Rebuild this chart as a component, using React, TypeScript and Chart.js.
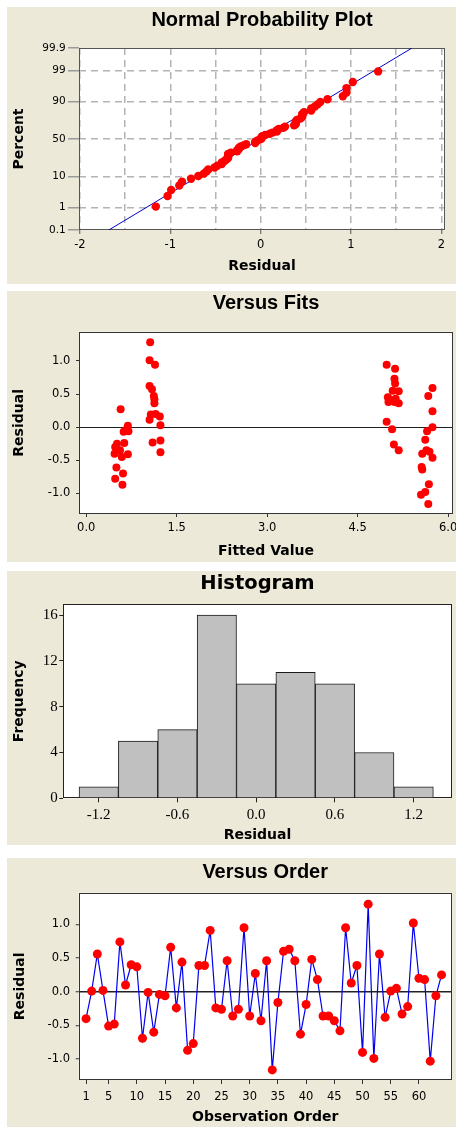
import React, { useEffect, useRef } from "react";
import { Chart, registerables } from "chart.js";

Chart.register(...registerables);
Chart.defaults.font.family = "DejaVu Sans";
Chart.defaults.color = "#000";

// ---------------- DATA ----------------
// Residuals in observation order (Versus Order panel)
const orderResiduals = [
  -0.40, 0.01, 0.56, 0.02, -0.51, -0.48, 0.74, 0.10, 0.40, 0.37,
  -0.69, -0.01, -0.60, -0.04, -0.06, 0.66, -0.24, 0.44, -0.87, -0.77,
  0.39, 0.39, 0.91, -0.24, -0.26, 0.46, -0.36, -0.26, 0.95, -0.36,
  0.27, -0.43, 0.46, -1.16, -0.16, 0.60, 0.63, 0.46, -0.63, -0.19,
  0.48, 0.18, -0.36, -0.36, -0.43, -0.58, 0.95, 0.13, 0.39, -0.90,
  1.30, -0.99, 0.56, -0.38, 0.01, 0.05, -0.33, -0.22, 1.02, 0.20,
  0.18, -1.03, -0.06, 0.25,
];
const orderTickValues = [1, 5, 10, 15, 20, 25, 30, 35, 40, 45, 50, 55, 60];

// Normal probability plot: ordered residuals and their plotted percents
const npResidual = [
  -1.16, -1.03, -0.99, -0.90, -0.87, -0.77, -0.69, -0.63, -0.60, -0.58,
  -0.51, -0.48, -0.43, -0.43, -0.40, -0.38, -0.36, -0.36, -0.36, -0.36,
  -0.33, -0.26, -0.26, -0.24, -0.24, -0.22, -0.19, -0.16, -0.06, -0.06,
  -0.04, -0.01, 0.01, 0.01, 0.02, 0.05, 0.10, 0.13, 0.18, 0.18,
  0.20, 0.25, 0.27, 0.37, 0.39, 0.39, 0.39, 0.40, 0.44, 0.46,
  0.46, 0.46, 0.48, 0.56, 0.56, 0.60, 0.63, 0.66, 0.74, 0.91,
  0.95, 0.95, 1.02, 1.30,
];
const npPercent = [
  1.087, 2.640, 4.193, 5.745, 7.298, 8.851, 10.404, 11.957, 13.509, 15.062,
  16.615, 18.168, 19.720, 21.273, 22.826, 24.379, 25.932, 27.484, 29.037, 30.590,
  32.143, 33.696, 35.248, 36.801, 38.354, 39.907, 41.460, 43.012, 44.565, 46.118,
  47.671, 49.224, 50.776, 52.329, 53.882, 55.435, 56.988, 58.540, 60.093, 61.646,
  63.199, 64.752, 66.304, 67.857, 69.410, 70.963, 72.516, 74.068, 75.621, 77.174,
  78.727, 80.280, 81.832, 83.385, 84.938, 86.491, 88.043, 89.596, 91.149, 92.702,
  94.255, 95.807, 97.360, 98.913,
];
const fitLineResidual = [-1.68, 1.675];
const fitLinePercent = [0.1, 99.9];
const npPercentTicks = [0.1, 1, 10, 50, 90, 99, 99.9];
const npPercentLabels = ["0.1", "1", "10", "50", "90", "99", "99.9"];
const npXGrid = [-2, -1.5, -1, -0.5, 0, 0.5, 1, 1.5, 2];
const npXLabels = ["-2", "", "-1", "", "0", "", "1", "", "2"];

// Versus Fits
const fitsFitted = [
  0.57, 0.69, 0.66, 0.62, 0.70, 0.51, 0.63, 0.48, 0.56, 0.69, 0.47, 0.59, 0.50, 0.48, 0.61, 0.60,
  1.06, 1.05, 1.14, 1.05, 1.09, 1.12, 1.13, 1.13, 1.07, 1.15, 1.22, 1.05, 1.23, 1.10, 1.23, 1.23,
  4.98, 5.12, 5.11, 5.12, 5.18, 5.00, 5.05, 5.18, 5.01, 5.11, 5.08, 4.98, 5.07, 5.10, 5.18, 5.13,
  5.74, 5.67, 5.74, 5.74, 5.65, 5.62, 5.64, 5.57, 5.74, 5.56, 5.57, 5.68, 5.62, 5.55, 5.67, 5.69,
];
const fitsResidual = [
  0.27, 0.02, -0.04, -0.07, -0.06, -0.25, -0.24, -0.30, -0.35, -0.41, -0.40, -0.45, -0.61, -0.78, -0.70, -0.87,
  1.28, 1.01, 0.94, 0.62, 0.57, 0.47, 0.42, 0.36, 0.19, 0.20, 0.16, 0.11, 0.03, -0.23, -0.20, -0.38,
  0.94, 0.88, 0.73, 0.66, 0.54, 0.45, 0.41, 0.36, 0.38, 0.38, 0.55, 0.08, -0.03, -0.26, -0.35, 0.43,
  0.59, 0.47, 0.24, 0.00, -0.06, -0.19, -0.35, -0.40, -0.46, -0.60, -0.64, -0.86, -0.98, -1.02, -1.16, -0.37,
];
const fitsXTicks = [0, 1.5, 3, 4.5, 6];
const residualTicks = [-1, -0.5, 0, 0.5, 1];

// Histogram
const histCenters = [-1.2, -0.9, -0.6, -0.3, 0.0, 0.3, 0.6, 0.9, 1.2];
const histCounts = [1, 5, 6, 16, 10, 11, 10, 4, 1];
const histXTicks = [-1.2, -0.6, 0, 0.6, 1.2];
const histYTicks = [0, 4, 8, 12, 16];

// ---------------- STYLE ----------------
const BEIGE = "#ece9d8";
const RED = "#ff0000";
const BLUE = "#0000ee";
const TITLE_FONT = "Liberation Sans";
const AXIS_TITLE = { family: "DejaVu Sans", size: 14, weight: "bold" as const };
const TICK_FONT = { family: "DejaVu Sans", size: 11.5 };

// probability-scale transform (inverse standard normal CDF)
function probit(p: number): number {
  const a = [-3.969683028665376e1, 2.209460984245205e2, -2.759285104469687e2, 1.38357751867269e2, -3.066479806614716e1, 2.506628277459239];
  const b = [-5.447609879822406e1, 1.615858368580409e2, -1.556989798598866e2, 6.680131188771972e1, -1.328068155288572e1];
  const c = [-7.784894002430293e-3, -3.223964580411365e-1, -2.400758277161838, -2.549732539343734, 4.374664141464968, 2.938163982698783];
  const d = [7.784695709041462e-3, 3.224671290700398e-1, 2.445134137142996, 3.754408661907416];
  const pl = 0.02425;
  if (p < pl) {
    const q = Math.sqrt(-2 * Math.log(p));
    return (((((c[0] * q + c[1]) * q + c[2]) * q + c[3]) * q + c[4]) * q + c[5]) / ((((d[0] * q + d[1]) * q + d[2]) * q + d[3]) * q + 1);
  }
  if (p <= 1 - pl) {
    const q = p - 0.5;
    const r = q * q;
    return ((((((a[0] * r + a[1]) * r + a[2]) * r + a[3]) * r + a[4]) * r + a[5]) * q) / (((((b[0] * r + b[1]) * r + b[2]) * r + b[3]) * r + b[4]) * r + 1);
  }
  const q = Math.sqrt(-2 * Math.log(1 - p));
  return -(((((c[0] * q + c[1]) * q + c[2]) * q + c[3]) * q + c[4]) * q + c[5]) / ((((d[0] * q + d[1]) * q + d[2]) * q + d[3]) * q + 1);
}

const fixY = (w: number) => (s: any) => {
  s.width = w;
  s.paddingTop = 0; s.paddingBottom = 0; s.paddingLeft = 0; s.paddingRight = 0;
};
const fixX = (h: number) => (s: any) => {
  s.height = h;
  s.paddingTop = 0; s.paddingBottom = 0; s.paddingLeft = 0; s.paddingRight = 0;
};
const setTicks = (vals: number[]) => (s: any) => {
  s.ticks = vals.map((v) => ({ value: v }));
};

const plotFrame = {
  id: "plotFrame",
  beforeDraw(chart: any) {
    const { ctx, chartArea: a } = chart;
    ctx.save();
    ctx.fillStyle = "#ffffff";
    ctx.fillRect(a.left, a.top, a.right - a.left, a.bottom - a.top);
    ctx.restore();
  },
  beforeDatasetsDraw(chart: any, _args: any, opts: any) {
    const { ctx, chartArea: a } = chart;
    const l = Math.round(a.left) + 0.5;
    const t = Math.round(a.top) + 0.5;
    const r = Math.round(a.right) - 0.5;
    const b = Math.round(a.bottom) - 0.5;
    ctx.save();
    ctx.strokeStyle = opts.color || "#333";
    ctx.lineWidth = opts.width || 1;
    ctx.strokeRect(l, t, r - l, b - t);
    ctx.restore();
  },
};

const base = (rightPad: number) => ({
  responsive: false,
  animation: false as const,
  devicePixelRatio: 1,
  events: [] as any[],
  layout: { padding: { left: 0, top: 0, right: rightPad, bottom: 0 }, autoPadding: false },
});

const titleOpt = (text: string, family: string, size: number, top: number, bottom: number) => ({
  display: true,
  text,
  fullSize: false,
  color: "#000",
  font: { family, size, weight: "bold" as const },
  padding: { top, bottom },
});

// ---------------- CONFIGS ----------------
function normalConfig(): any {
  return {
    type: "scatter",
    data: {
      datasets: [
        {
          type: "scatter",
          data: npResidual.map((r, i) => ({ x: r, y: probit(npPercent[i] / 100) })),
          pointRadius: 4.2,
          pointBackgroundColor: RED,
          pointBorderColor: RED,
          pointBorderWidth: 0,
        },
        {
          type: "line",
          data: fitLineResidual.map((r, i) => ({ x: r, y: probit(fitLinePercent[i] / 100) })),
          borderColor: "#0000cc",
          borderWidth: 1,
          pointRadius: 0,
          showLine: true,
          fill: false,
        },
      ],
    },
    options: {
      ...base(11),
      plugins: {
        legend: { display: false },
        tooltip: { enabled: false },
        title: titleOpt("Normal Probability Plot", TITLE_FONT, 20, 1.7, 15.3),
        plotFrame: { color: "#555" },
      },
      scales: {
        x: {
          type: "linear",
          min: -2.01,
          max: 2.04,
          afterBuildTicks: setTicks(npXGrid),
          afterFit: fixX(54),
          ticks: { autoSkip: false, maxRotation: 0, font: TICK_FONT, padding: 4.1, callback: (_v: any, i: number) => npXLabels[i] },
          grid: {
            color: "#b4b4b4",
            lineWidth: 1.5,
            tickLength: 4,
            tickWidth: 1,
            tickColor: (ctx: any) => (Number.isInteger(ctx.tick?.value) ? "#555" : "rgba(0,0,0,0)"),
          },
          border: { display: false, dash: [7, 5] },
          title: { display: true, text: "Residual", font: AXIS_TITLE, padding: { top: 0, bottom: 8.9 } },
        },
        y: {
          type: "linear",
          min: probit(0.001),
          max: probit(0.999),
          afterBuildTicks: setTicks(npPercentTicks.map((p) => probit(p / 100))),
          afterFit: fixY(72),
          ticks: { autoSkip: false, font: { family: "DejaVu Sans", size: 10.5 }, padding: 2.3, callback: (_v: any, i: number) => npPercentLabels[i] },
          grid: {
            color: (ctx: any) => (ctx.index === 0 || ctx.index === npPercentTicks.length - 1 ? "rgba(0,0,0,0)" : "#b4b4b4"),
            lineWidth: 1.5,
            tickLength: 11,
            tickWidth: 1.5,
            tickColor: "#9a9a9a",
          },
          border: { display: false, dash: [7, 5] },
          title: { display: true, text: "Percent", font: AXIS_TITLE, padding: { top: 3.8, bottom: 0 } },
        },
      },
    },
    plugins: [plotFrame],
  };
}

function fitsConfig(): any {
  return {
    type: "scatter",
    data: {
      datasets: [
        {
          data: fitsFitted.map((f, i) => ({ x: f, y: fitsResidual[i] })),
          pointRadius: 4,
          pointBackgroundColor: RED,
          pointBorderColor: RED,
          pointBorderWidth: 0,
        },
      ],
    },
    options: {
      ...base(3),
      plugins: {
        legend: { display: false },
        tooltip: { enabled: false },
        title: titleOpt("Versus Fits", TITLE_FONT, 20, 0.7, 16),
        plotFrame: { color: "#333" },
      },
      scales: {
        x: {
          type: "linear",
          min: -0.12,
          max: 6.08,
          afterBuildTicks: setTicks(fitsXTicks),
          afterFit: fixX(48),
          ticks: { autoSkip: false, maxRotation: 0, font: TICK_FONT, padding: 4.4, callback: (v: any) => Number(v).toFixed(1) },
          grid: { drawOnChartArea: false, tickLength: 3, tickColor: "#333", tickWidth: 1 },
          border: { display: false },
          title: { display: true, text: "Fitted Value", font: AXIS_TITLE, padding: { top: 0, bottom: 2.6 } },
        },
        y: {
          type: "linear",
          min: -1.31,
          max: 1.44,
          afterBuildTicks: setTicks(residualTicks),
          afterFit: fixY(72),
          ticks: { autoSkip: false, font: TICK_FONT, padding: 5.7, callback: (v: any) => Number(v).toFixed(1) },
          grid: {
            color: (ctx: any) => (ctx.tick?.value === 0 ? "#222" : "rgba(0,0,0,0)"),
            lineWidth: 1,
            tickLength: 3,
            tickColor: "#333",
            tickWidth: 1,
          },
          border: { display: false },
          title: { display: true, text: "Residual", font: AXIS_TITLE, padding: { top: 3.8, bottom: 0 } },
        },
      },
    },
    plugins: [plotFrame],
  };
}

function histConfig(): any {
  const serif = { family: "Liberation Serif", size: 15 };
  return {
    type: "bar",
    data: {
      datasets: [
        {
          data: histCenters.map((c, i) => ({ x: c, y: histCounts[i] })),
          backgroundColor: "#c0c0c0",
          borderColor: "#1a1a1a",
          borderWidth: 1,
          borderSkipped: false,
          barPercentage: 1,
          categoryPercentage: 1,
        },
      ],
    },
    options: {
      ...base(4.3),
      plugins: {
        legend: { display: false },
        tooltip: { enabled: false },
        title: titleOpt("Histogram", "DejaVu Sans", 19.5, 1.1, 8.8),
        plotFrame: { color: "#222" },
      },
      scales: {
        x: {
          type: "linear",
          offset: false,
          min: -1.47,
          max: 1.49,
          afterBuildTicks: setTicks(histXTicks),
          afterFit: fixX(46.7),
          ticks: { autoSkip: false, maxRotation: 0, font: serif, padding: 3.7, callback: (v: any) => Number(v).toFixed(1) },
          grid: { offset: false, drawOnChartArea: false, tickLength: 4, tickColor: "#222", tickWidth: 1 },
          border: { display: false },
          title: { display: true, text: "Residual", font: AXIS_TITLE, padding: { top: 0, bottom: 0.8 } },
        },
        y: {
          type: "linear",
          min: 0,
          max: 16.95,
          afterBuildTicks: setTicks(histYTicks),
          afterFit: fixY(56.3),
          ticks: { autoSkip: false, font: serif, padding: 1.5, callback: (v: any) => String(v) },
          grid: { drawOnChartArea: false, tickLength: 4, tickColor: "#222", tickWidth: 1 },
          border: { display: false },
          title: { display: true, text: "Frequency", font: AXIS_TITLE, padding: { top: 3.8, bottom: 0 } },
        },
      },
    },
    plugins: [plotFrame],
  };
}

function orderConfig(): any {
  return {
    type: "line",
    data: {
      datasets: [
        {
          data: orderResiduals.map((r, i) => ({ x: i + 1, y: r })),
          borderColor: BLUE,
          borderWidth: 1.2,
          tension: 0,
          fill: false,
          pointRadius: 4.5,
          pointBackgroundColor: RED,
          pointBorderColor: RED,
          pointBorderWidth: 0,
        },
      ],
    },
    options: {
      ...base(4.3),
      plugins: {
        legend: { display: false },
        tooltip: { enabled: false },
        title: titleOpt("Versus Order", TITLE_FONT, 20, 2, 8.7),
        plotFrame: { color: "#333" },
      },
      scales: {
        x: {
          type: "linear",
          min: -0.3,
          max: 65.8,
          afterBuildTicks: setTicks(orderTickValues),
          afterFit: fixX(47),
          ticks: { autoSkip: false, maxRotation: 0, font: TICK_FONT, padding: 5.8, callback: (v: any) => String(v) },
          grid: { drawOnChartArea: false, tickLength: 4, tickColor: "#333", tickWidth: 1 },
          border: { display: false },
          title: { display: true, text: "Observation Order", font: AXIS_TITLE, padding: { top: 0, bottom: 1.6 } },
        },
        y: {
          type: "linear",
          min: -1.31,
          max: 1.47,
          afterBuildTicks: setTicks(residualTicks),
          afterFit: fixY(71.7),
          ticks: { autoSkip: false, font: TICK_FONT, padding: 5.7, callback: (v: any) => Number(v).toFixed(1) },
          grid: {
            color: (ctx: any) => (ctx.tick?.value === 0 ? "#222" : "rgba(0,0,0,0)"),
            lineWidth: 1.5,
            tickLength: 3,
            tickColor: "#333",
            tickWidth: 1,
          },
          border: { display: false },
          title: { display: true, text: "Residual", font: AXIS_TITLE, padding: { top: 5.4, bottom: 0 } },
        },
      },
    },
    plugins: [plotFrame],
  };
}

// ---------------- COMPONENTS ----------------
type PanelProps = { top: number; height: number; build: () => any };

function Panel({ top, height, build }: PanelProps) {
  const ref = useRef<HTMLCanvasElement | null>(null);
  useEffect(() => {
    if (!ref.current) return;
    const chart = new Chart(ref.current, build());
    return () => chart.destroy();
  }, []);
  return (
    <div style={{ position: "absolute", left: 7, top, width: 449, height, background: BEIGE }}>
      <canvas ref={ref} width={449} height={height} style={{ display: "block", width: 449, height }} />
    </div>
  );
}

export default function App() {
  return (
    <div style={{ position: "absolute", left: 0, top: 0, width: 456, height: 1127, background: "#ffffff", overflow: "hidden" }}>
      <Panel top={7} height={277} build={normalConfig} />
      <Panel top={291} height={271} build={fitsConfig} />
      <Panel top={571} height={274} build={histConfig} />
      <Panel top={858} height={269} build={orderConfig} />
    </div>
  );
}
